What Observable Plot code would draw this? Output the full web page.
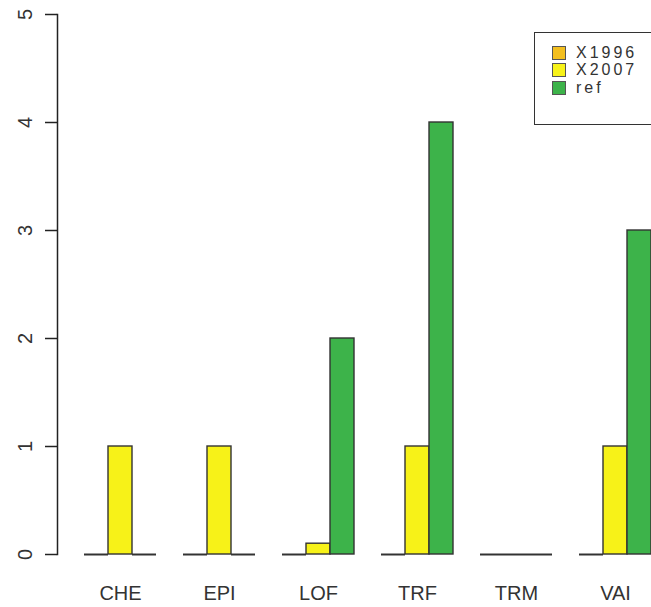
<!DOCTYPE html>
<html>
<head>
<meta charset="utf-8">
<script src="https://cdn.jsdelivr.net/npm/d3@7"></script>
<script src="https://cdn.jsdelivr.net/npm/@observablehq/plot@0.6"></script>
<style>
  html, body { margin: 0; padding: 0; background: #fff; overflow: hidden; }
  #wrap { position: relative; width: 651px; height: 607px; overflow: hidden; }
  #legend {
    position: absolute; left: 534px; top: 32px; width: 150px; height: 93px;
    border: 1px solid #333; box-sizing: border-box; background: #fff;
    font-family: "Liberation Sans", Arial, sans-serif; font-size: 16px; line-height: 16px; color: #333;
    padding-top: 11px;
  }
  .item { display: flex; align-items: center; height: 17.5px; margin-left: 17px; letter-spacing: 3px; }
  .sw { width: 12px; height: 12px; border: 1px solid #555; margin-right: 10px; flex: none; }
</style>
</head>
<body>
<div id="wrap"></div>
<script>
const categories = ["CHE", "EPI", "LOF", "TRF", "TRM", "VAI"];
const series = ["X1996", "X2007", "ref"];
const x1996 = [0, 0, 0, 0, 0, 0];
const x2007 = [1, 1, 0.1, 1, 0, 1];
const ref = [0, 0, 2, 4, 0, 3];
const yTicks = [0, 1, 2, 3, 4, 5];
const colors = ["#F3BF1F", "#F7F218", "#3DB34A"];

const values = {X1996: x1996, X2007: x2007, ref: ref};
const data = [];
categories.forEach((c, i) => series.forEach(s => data.push({category: c, series: s, value: values[s][i]})));

const chart = Plot.plot({
  width: 651,
  height: 607,
  marginLeft: 57,
  marginRight: 0,
  marginTop: 14,
  marginBottom: 53,
  style: {fontFamily: "'Liberation Sans', Arial, sans-serif", background: "#fff"},
  fx: {domain: categories, padding: 0, axis: null, label: null},
  x: {domain: series, paddingInner: 0, paddingOuter: 0.5, align: 1, axis: null, label: null},
  y: {domain: [0, 5], axis: null, label: null},
  color: {domain: series, range: colors},
  marks: [
    Plot.barY(data.filter(d => d.value > 0), {
      fx: "category", x: "series", y: "value", fill: "series",
      stroke: "#333", strokeWidth: 1.4, inset: 0
    }),
    Plot.tickY(data.filter(d => d.value === 0), {
      fx: "category", x: "series", y: "value", stroke: "#333", strokeWidth: 2
    }),
    Plot.axisY(yTicks, {
      label: null, tickFormat: d => String(d),
      tickSize: 12, tickPadding: 14, tickRotate: -90, fontSize: 20,
      stroke: "#222", strokeWidth: 1.5, fill: "#333"
    }),
    Plot.frame({anchor: "left", facetAnchor: "left", stroke: "#222", strokeWidth: 1.5}),
    Plot.text(categories, {
      fx: d => d, x: () => "X2007", frameAnchor: "bottom", dy: 45,
      text: d => d, fontSize: 20, fill: "#333"
    })
  ]
});
document.getElementById("wrap").appendChild(chart);

const legend = document.createElement("div");
legend.id = "legend";
series.forEach((s, i) => {
  const item = document.createElement("div");
  item.className = "item";
  const sw = document.createElement("span");
  sw.className = "sw";
  sw.style.background = colors[i];
  const t = document.createElement("span");
  t.textContent = s;
  item.appendChild(sw);
  item.appendChild(t);
  legend.appendChild(item);
});
document.getElementById("wrap").appendChild(legend);
</script>
</body>
</html>
